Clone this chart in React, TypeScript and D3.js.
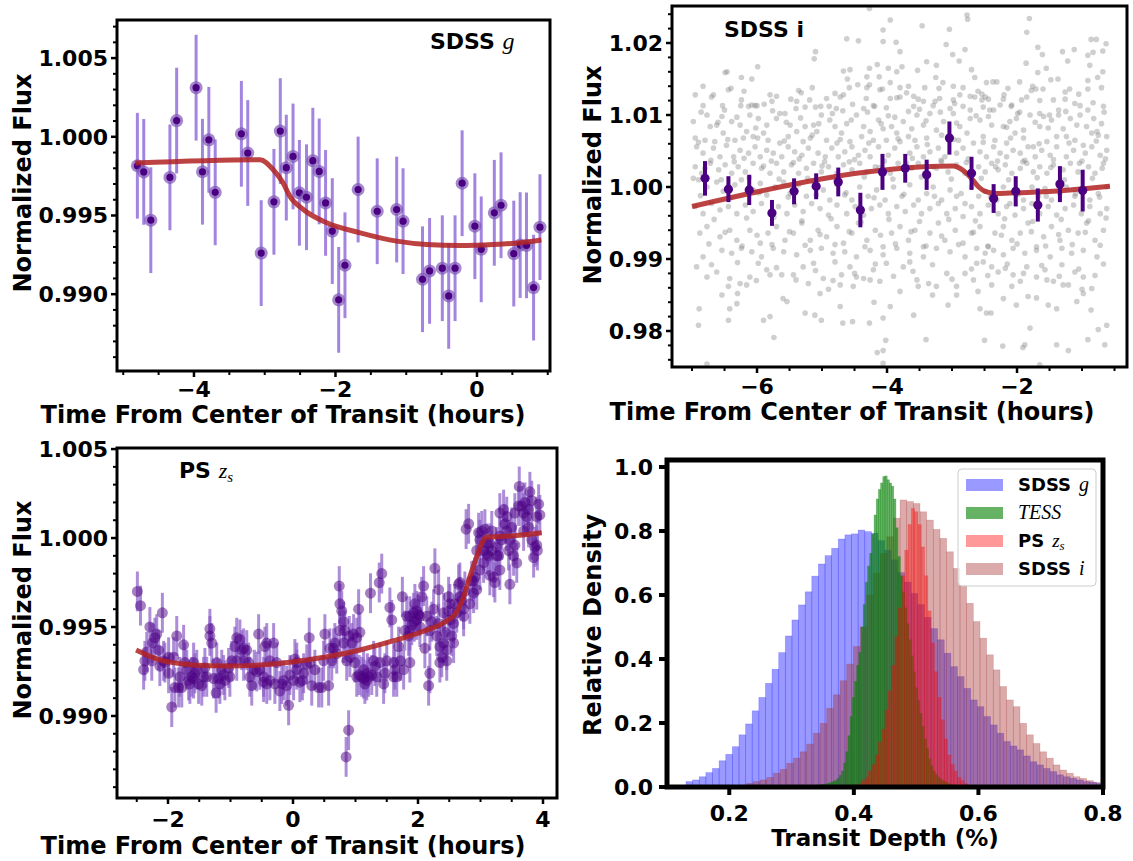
import React from "react";
import * as d3 from "d3";

const FONT = "'DejaVu Sans', sans-serif";
const SERIF = "'Liberation Serif', 'DejaVu Serif', serif";

// ---------------- Panel 1: SDSS g ----------------
const gTime = [-4.80,-4.71,-4.61,-4.34,-4.245,-3.97,-3.88,-3.79,-3.70,-3.33,-3.24,-3.05,-2.87,-2.78,-2.695,-2.60,-2.51,-2.41,-2.32,-2.23,-2.14,-2.045,-1.955,-1.866,-1.68,-1.41,-1.135,-1.045,-0.77,-0.67,-0.49,-0.40,-0.31,-0.21,-0.03,0.06,0.245,0.34,0.52,0.61,0.70,0.80,0.89];
const gFlux = [0.99816,0.99777,0.99470,0.99742,1.00103,1.00312,0.99778,0.99981,0.99647,1.00019,0.99897,0.99261,0.99587,1.00036,0.99804,0.99875,0.99644,0.99616,0.99848,0.99780,0.99580,0.99401,0.98964,0.99184,0.99665,0.99527,0.99538,0.99464,0.99095,0.99148,0.99165,0.98989,0.99165,0.99705,0.99432,0.99285,0.99517,0.99565,0.99258,0.99312,0.99310,0.99042,0.99426];
const G_ERR = 0.00336;
const gModelTime = [-4.83,-3.067,-2.88,-2.74,-2.645,-2.455,-2.125,-1.65,-1.135,-0.71,-0.24,0.23,0.61,0.91];
const gModelFlux = [0.99833,0.99854,0.99791,0.99707,0.99622,0.99538,0.99454,0.99390,0.99337,0.99316,0.99310,0.99316,0.99327,0.99344];
const gXTicks = [-4, -2, 0];
const gYTicks = [0.990, 0.995, 1.000, 1.005];

// ---------------- Panel 2: SDSS i ----------------
const iRaw: [number, number][] = [
[-4.27,1.0248],[-2.77,1.0239],[-2.76,1.0233],[-1.81,1.0234],[-3.95,1.0232],[-1.85,1.0215],[-3.46,1.0224],[-4.06,1.0218],[-3.04,1.0219],[-4.62,1.0206],[-4.44,1.0203],[-4.06,1.0202],[-3.86,1.0201],[-0.86,1.0205],[-0.78,1.0205],[-0.63,1.0199],[-3.09,1.0198],[-2.80,1.0191],[-5.10,1.0188],[-3.80,1.0188],[-1.68,1.0194],[-1.12,1.0191],[-1.30,1.0188],[-0.83,1.0187],[-0.68,1.0189],[-2.99,1.0184],[-1.61,1.0184],[-0.91,1.0183],[-5.12,1.0178],[-2.89,1.0175],[-1.22,1.0175],[-1.86,1.0172],[-3.39,1.0174],[-3.24,1.0169],[-4.15,1.0170],[-4.27,1.0165],[-4.57,1.0163],[-4.67,1.0161],[-5.99,1.0167],[-3.77,1.0167],[-3.85,1.0160],[-3.98,1.0165],[-3.53,1.0162],[-1.55,1.0165],[-1.68,1.0159],[-0.88,1.0169],[-0.68,1.0160],[-2.70,1.0163],[-6.49,1.0159],[-6.46,1.0160],[-6.24,1.0152],[-6.08,1.0150],[-4.31,1.0153],[-4.61,1.0150],[-4.12,1.0153],[-3.25,1.0152],[-2.37,1.0146],[-2.47,1.0145],[-2.65,1.0152],[-1.48,1.0149],[-1.37,1.0150],[-0.91,1.0148],[-0.76,1.0152],[-1.96,1.0146],[-1.76,1.0140],[-1.71,1.0136],[-1.19,1.0136],
[-3.95,1.0145],[-6.83,1.0140],[-6.44,1.0135],[-6.40,1.0137],[-5.36,1.0134],[-5.32,1.0131],[-4.58,1.0138],[-4.31,1.0138],[-4.27,1.0142],[-4.11,1.0135],[-4.07,1.0136],[-3.80,1.0138],[-3.67,1.0140],[-3.42,1.0138],[-3.14,1.0145],[-2.98,1.0140],[-2.83,1.0138],[-2.54,1.0129],[-2.49,1.0125],[-2.31,1.0146],[-2.14,1.0137],[-1.78,1.0134],[-1.26,1.0132],[-0.91,1.0136],[-6.95,1.0128],[-6.67,1.0128],[-6.24,1.0121],[-6.08,1.0114],[-6.03,1.0113],[-5.80,1.0128],[-5.77,1.0119],[-5.89,1.0115],[-5.48,1.0122],[-5.39,1.0119],[-5.19,1.0121],[-4.93,1.0123],[-4.89,1.0112],[-4.72,1.0125],[-4.67,1.0128],[-4.53,1.0115],[-4.21,1.0113],[-4.32,1.0123],[-3.95,1.0123],[-3.85,1.0124],[-3.80,1.0125],[-3.59,1.0126],[-3.52,1.0122],[-3.44,1.0119],[-3.26,1.0119],[-3.19,1.0123],[-2.98,1.0121],[-2.88,1.0128],[-2.72,1.0126],[-2.65,1.0125],[-2.54,1.0121],[-2.44,1.0122],[-2.21,1.0122],[-2.08,1.0114],[-1.93,1.0121],[-1.85,1.0125],[-1.65,1.0120],[-1.44,1.0121],[-1.26,1.0122],[-1.11,1.0116],[-1.03,1.0113],[-0.83,1.0117],[-6.83,1.0113],[-6.50,1.0107],[-6.53,1.0113],[-6.25,1.0113],[-6.13,1.0112],[-6.00,1.0113],[-5.65,1.0102],[-5.40,1.0109],[-5.26,1.0111],[-5.10,1.0111],[-5.02,1.0112],[-4.78,1.0109],[-4.68,1.0106],[-4.36,1.0109],[-4.19,1.0112],[-4.01,1.0110],[-3.67,1.0105],[-3.59,1.0112],[-3.50,1.0108],[-3.29,1.0113],[-3.03,1.0109],[-2.96,1.0116],[-2.83,1.0112],[-2.72,1.0107],[-2.52,1.0111],[-2.42,1.0107],[-2.26,1.0114],[-2.09,1.0112],[-1.99,1.0102],[-1.65,1.0102],[-1.50,1.0100],[-1.36,1.0107],[-0.91,1.0107],[-0.67,1.0112],
[-6.98,1.0091],[-6.77,1.0100],[-6.72,1.0084],[-6.62,1.0086],[-6.54,1.0098],[-6.39,1.0091],[-6.26,1.0086],[-6.11,1.0100],[-5.98,1.0095],[-6.16,1.0077],[-6.06,1.0070],[-5.90,1.0075],[-5.85,1.0086],[-5.70,1.0095],[-5.57,1.0102],[-5.49,1.0086],[-5.39,1.0077],[-5.26,1.0084],[-5.13,1.0086],[-5.08,1.0077],[-5.01,1.0100],[-4.88,1.0093],[-4.80,1.0084],[-4.70,1.0075],[-4.62,1.0088],[-4.47,1.0100],[-4.36,1.0084],[-4.26,1.0077],[-4.13,1.0093],[-4.06,1.0081],[-3.98,1.0099],[-3.93,1.0084],[-3.85,1.0075],[-3.75,1.0091],[-3.67,1.0070],[-3.54,1.0100],[-3.44,1.0086],[-3.34,1.0102],[-3.24,1.0079],[-3.13,1.0091],[-2.98,1.0102],[-2.88,1.0084],[-2.72,1.0095],[-2.57,1.0093],[-2.44,1.0098],[-2.39,1.0086],[-2.21,1.0084],[-2.11,1.0091],[-2.01,1.0095],[-1.90,1.0079],[-1.80,1.0100],[-1.65,1.0084],[-1.59,1.0098],[-1.47,1.0093],[-1.36,1.0100],[-1.29,1.0081],[-1.18,1.0095],[-1.03,1.0100],[-0.93,1.0084],[-0.77,1.0077],[-0.70,1.0088],[-6.95,1.0068],[-6.80,1.0065],[-6.65,1.0063],[-6.52,1.0075],[-6.34,1.0065],[-6.21,1.0068],[-5.83,1.0065],[-5.65,1.0061],[-5.52,1.0070],[-5.29,1.0063],[-5.18,1.0068],[-4.93,1.0065],[-4.77,1.0061],[-4.57,1.0063],[-4.39,1.0070],[-4.21,1.0065],[-4.01,1.0065],[-3.80,1.0063],[-3.57,1.0065],[-3.39,1.0068],[-3.16,1.0072],[-2.90,1.0065],[-2.77,1.0075],[-2.67,1.0061],[-2.52,1.0070],[-2.34,1.0065],[-2.16,1.0061],[-2.03,1.0075],[-1.90,1.0068],[-1.75,1.0056],[-1.54,1.0063],[-1.39,1.0070],[-1.24,1.0070],[-1.11,1.0065],[-0.98,1.0058],[-0.85,1.0075],[-0.75,1.0072],[-0.62,1.0070],
[-6.93,1.0056],[-6.83,1.0047],[-6.67,1.0054],[-6.57,1.0042],[-6.47,1.0058],[-6.36,1.0042],[-6.26,1.0051],[-6.13,1.0047],[-6.03,1.0056],[-5.95,1.0042],[-5.85,1.0051],[-5.75,1.0047],[-5.62,1.0042],[-5.52,1.0056],[-5.42,1.0049],[-5.31,1.0044],[-5.21,1.0054],[-5.06,1.0047],[-4.95,1.0042],[-4.85,1.0054],[-4.75,1.0042],[-4.65,1.0049],[-4.54,1.0056],[-4.44,1.0044],[-4.34,1.0051],[-4.26,1.0042],[-4.13,1.0056],[-3.98,1.0044],[-3.88,1.0054],[-3.65,1.0047],[-3.54,1.0056],[-3.44,1.0042],[-3.34,1.0049],[-3.21,1.0054],[-3.11,1.0042],[-2.93,1.0047],[-2.83,1.0054],[-2.57,1.0049],[-2.47,1.0042],[-2.36,1.0056],[-2.26,1.0047],[-2.16,1.0042],[-2.06,1.0051],[-1.95,1.0047],[-1.83,1.0056],[-1.72,1.0042],[-1.62,1.0051],[-1.49,1.0044],[-1.39,1.0056],[-1.24,1.0042],[-1.13,1.0051],[-0.95,1.0047],[-0.85,1.0056],[-0.72,1.0044],[-0.62,1.0051],[-6.95,1.0028],[-6.85,1.0019],[-6.72,1.0033],[-6.59,1.0024],[-6.49,1.0031],[-6.39,1.0019],[-6.29,1.0028],[-6.18,1.0021],[-6.06,1.0033],[-5.93,1.0026],[-5.80,1.0019],[-5.70,1.0033],[-5.59,1.0021],[-5.47,1.0031],[-5.36,1.0019],[-5.24,1.0026],[-5.13,1.0033],[-5.01,1.0021],[-4.90,1.0028],[-4.77,1.0019],[-4.67,1.0031],[-4.54,1.0024],[-4.42,1.0033],[-4.31,1.0021],[-4.18,1.0028],[-3.95,1.0019],[-3.83,1.0033],[-3.62,1.0026],[-3.52,1.0033],[-3.42,1.0019],[-3.29,1.0028],[-3.16,1.0035],[-3.06,1.0021],[-2.93,1.0031],[-2.80,1.0019],[-2.59,1.0028],[-2.49,1.0021],[-2.39,1.0033],[-2.29,1.0024],[-2.18,1.0031],[-2.08,1.0019],[-1.95,1.0026],[-1.85,1.0033],[-1.75,1.0021],[-1.65,1.0028],[-1.54,1.0019],[-1.44,1.0031],[-1.29,1.0024],[-1.18,1.0033],[-1.06,1.0021],[-0.90,1.0028],[-0.80,1.0019],[-0.67,1.0033],
[-6.90,1.0010],[-6.77,1.0000],[-6.62,1.0007],[-6.52,0.9994],[-6.34,1.0003],[-6.24,1.0010],[-6.06,0.9996],[-5.95,1.0005],[-5.85,0.9989],[-5.72,1.0000],[-5.59,1.0007],[-5.49,0.9991],[-5.36,1.0003],[-5.24,0.9987],[-5.13,1.0007],[-4.98,0.9996],[-4.88,0.9982],[-4.77,1.0003],[-4.65,0.9989],[-4.54,0.9982],[-4.42,1.0000],[-4.29,0.9987],[-4.16,0.9996],[-4.03,0.9982],[-3.90,1.0000],[-3.77,0.9987],[-3.65,1.0003],[-3.52,0.9982],[-3.39,0.9991],[-3.29,1.0000],[-3.16,0.9982],[-3.03,0.9996],[-2.93,0.9987],[-2.80,0.9977],[-2.70,1.0000],[-2.59,0.9987],[-2.49,0.9994],[-2.31,0.9982],[-2.21,1.0000],[-2.11,0.9977],[-2.01,0.9991],[-1.90,0.9982],[-1.77,1.0000],[-1.67,0.9987],[-1.57,0.9998],[-1.47,0.9982],[-1.34,0.9991],[-1.24,1.0000],[-1.11,0.9987],[-0.98,0.9996],[-0.88,0.9982],[-0.75,0.9991],[-0.62,1.0000],[-6.95,0.9973],[-6.83,0.9963],[-6.70,0.9977],[-6.57,0.9968],[-6.44,0.9973],[-6.31,0.9963],[-6.18,0.9975],[-6.06,0.9966],[-5.93,0.9977],[-5.80,0.9963],[-5.67,0.9973],[-5.54,0.9963],[-5.42,0.9975],[-5.29,0.9966],[-5.16,0.9977],[-5.03,0.9970],[-4.90,0.9961],[-4.77,0.9975],[-4.62,0.9963],[-4.49,0.9973],[-4.36,0.9961],[-4.24,0.9970],[-4.11,0.9975],[-3.98,0.9963],[-3.85,0.9973],[-3.72,0.9966],[-3.59,0.9975],[-3.47,0.9963],[-3.34,0.9970],[-3.21,0.9977],[-3.08,0.9963],[-2.95,0.9970],[-2.83,0.9959],[-2.70,0.9973],[-2.57,0.9963],[-2.44,0.9975],[-2.29,0.9963],[-2.16,0.9973],[-2.03,0.9961],[-1.90,0.9970],[-1.77,0.9977],[-1.65,0.9963],[-1.52,0.9973],[-1.39,0.9961],[-1.26,0.9970],[-1.13,0.9975],[-1.01,0.9963],[-0.88,0.9973],[-0.72,0.9963],[-0.62,0.9970],
[-6.88,0.9936],[-6.77,0.9945],[-6.57,0.9931],[-6.42,0.9940],[-6.31,0.9926],[-6.11,0.9940],[-5.95,0.9922],[-5.83,0.9936],[-5.70,0.9945],[-5.57,0.9926],[-5.44,0.9936],[-5.31,0.9950],[-5.18,0.9926],[-5.06,0.9940],[-4.93,0.9931],[-4.77,0.9945],[-4.67,0.9922],[-4.54,0.9936],[-4.44,0.9950],[-4.31,0.9926],[-4.18,0.9940],[-4.06,0.9917],[-3.93,0.9936],[-3.80,0.9945],[-3.67,0.9926],[-3.57,0.9940],[-3.44,0.9917],[-3.34,0.9936],[-3.21,0.9950],[-3.11,0.9926],[-2.95,0.9940],[-2.83,0.9922],[-2.70,0.9936],[-2.57,0.9945],[-2.44,0.9917],[-2.34,0.9936],[-2.21,0.9945],[-2.08,0.9926],[-1.95,0.9936],[-1.83,0.9950],[-1.70,0.9917],[-1.59,0.9931],[-1.47,0.9945],[-1.34,0.9926],[-1.21,0.9940],[-1.06,0.9936],[-0.93,0.9950],[-0.80,0.9926],[-0.67,0.9940],[-6.54,0.9912],[-6.39,0.9908],[-6.24,0.9915],[-6.08,0.9910],[-5.93,0.9903],[-5.75,0.9915],[-5.59,0.9910],[-5.39,0.9906],[-5.18,0.9912],[-5.01,0.9915],[-4.83,0.9908],[-4.65,0.9910],[-4.47,0.9903],[-4.26,0.9912],[-4.06,0.9906],[-3.85,0.9915],[-3.65,0.9908],[-3.44,0.9903],[-3.24,0.9915],[-3.03,0.9910],[-2.80,0.9903],[-2.62,0.9915],[-2.49,0.9908],[-2.36,0.9912],[-2.21,0.9906],[-2.06,0.9915],[-1.88,0.9908],[-1.70,0.9912],[-1.49,0.9903],[-1.31,0.9915],[-1.16,0.9908],[-0.98,0.9912],[-0.77,0.9903],
[-6.93,0.9889],[-6.83,0.9903],[-6.70,0.9892],[-6.54,0.9850],[-6.44,0.9862],[-6.26,0.9866],[-6.11,0.9875],[-5.98,0.9894],[-5.85,0.9885],[-5.80,0.9878],[-5.62,0.9878],[-5.44,0.9878],[-5.29,0.9889],[-5.13,0.9894],[-4.98,0.9873],[-4.83,0.9870],[-4.70,0.9878],[-4.57,0.9889],[-4.47,0.9875],[-4.36,0.9873],[-4.21,0.9885],[-4.11,0.9869],[-4.01,0.9894],[-3.75,0.9889],[-3.65,0.9896],[-3.52,0.9862],[-3.36,0.9866],[-3.24,0.9862],[-3.08,0.9880],[-2.93,0.9862],[-2.80,0.9880],[-2.62,0.9894],[-2.52,0.9896],[-2.39,0.9889],[-2.29,0.9882],[-2.18,0.9887],[-2.06,0.9878],[-1.95,0.9869],[-1.85,0.9889],[-1.70,0.9875],[-1.57,0.9885],[-1.44,0.9869],[-1.31,0.9892],[-1.21,0.9864],[-1.11,0.9882],[-0.98,0.9875],[-0.85,0.9859],[-0.67,0.9893],[-6.77,0.9875],[-6.42,0.9873],[-6.16,0.9864],[-5.21,0.9866],[-5.03,0.9852],[-4.72,0.9864],[-4.52,0.9862],[-4.26,0.9871],[-3.80,0.9855],[-3.54,0.9871],[-2.93,0.9850],[-2.67,0.9871],[-2.39,0.9864],[-2.08,0.9862],[-1.54,0.9871],[-1.29,0.9864],
[-6.89,0.9831],[-6.90,0.9808],[-6.42,0.9831],[-6.44,0.9815],[-6.31,0.9838],[-5.90,0.9815],[-5.80,0.9820],[-5.54,0.9841],[-5.26,0.9825],[-5.11,0.9822],[-5.01,0.9815],[-4.72,0.9834],[-4.68,0.9811],[-4.53,0.9813],[-4.27,0.9811],[-4.06,0.9818],[-3.95,0.9834],[-3.59,0.9822],[-3.06,0.9836],[-2.57,0.9831],[-2.47,0.9825],[-2.40,0.9825],[-2.21,0.9845],[-2.01,0.9836],[-1.83,0.9848],[-1.52,0.9836],[-1.39,0.9831],[-1.08,0.9841],[-0.98,0.9852],[-0.86,0.9829],[-0.62,0.9808],[-0.75,0.9802],[-1.80,0.9804],[-1.88,0.9781],[-1.91,0.9777],[-2.22,0.9779],[-2.50,0.9787],[-3.40,0.9788],[-4.02,0.9787],[-4.15,0.9770],[-4.06,0.9773],[-5.74,0.9791],[-6.77,0.9754],[-1.39,0.9781],[-1.21,0.9773],[-0.65,0.9781],[-0.91,0.9788],[-1.65,0.9753],[-4.06,0.9755],
[-6.86,1.0104],[-6.60,1.0090],[-6.31,1.0097],[-6.02,1.0082],[-5.76,1.0106],[-5.55,1.0090],[-5.33,1.0096],[-5.05,1.0088],[-4.84,1.0102],[-4.55,1.0093],[-4.30,1.0104],[-4.09,1.0088],[-3.88,1.0097],[-3.62,1.0081],[-3.40,1.0092],[-3.18,1.0104],[-2.93,1.0089],[-2.63,1.0099],[-2.36,1.0107],[-2.16,1.0083],[-1.96,1.0104],[-1.72,1.0090],[-1.52,1.0082],[-1.25,1.0105],[-1.08,1.0086],[-0.82,1.0095],[-0.66,1.0104],
[-6.90,1.0062],[-6.71,1.0037],[-6.45,1.0066],[-6.20,1.0040],[-5.99,1.0068],[-5.78,1.0036],[-5.58,1.0064],[-5.35,1.0039],[-5.15,1.0072],[-4.96,1.0035],[-4.72,1.0066],[-4.50,1.0038],[-4.28,1.0061],[-4.04,1.0036],[-3.83,1.0067],[-3.61,1.0040],[-3.38,1.0059],[-3.17,1.0037],[-2.97,1.0066],[-2.75,1.0039],[-2.52,1.0062],[-2.30,1.0036],[-2.10,1.0068],[-1.88,1.0037],[-1.66,1.0060],[-1.44,1.0038],[-1.20,1.0061],[-1.00,1.0036],[-0.78,1.0064],[-0.64,1.0039],
[-6.98,1.0012],[-6.80,1.0026],[-6.55,1.0010],[-6.35,1.0035],[-6.12,1.0013],[-5.90,1.0029],[-5.66,1.0011],[-5.44,1.0034],[-5.22,1.0012],[-5.00,1.0029],[-4.79,1.0010],[-4.58,1.0035],[-4.35,1.0014],[-4.12,1.0027],[-3.91,1.0011],[-3.70,1.0033],[-3.47,1.0014],[-3.24,1.0026],[-3.01,1.0011],[-2.78,1.0034],[-2.55,1.0012],[-2.33,1.0028],[-2.13,1.0010],[-1.91,1.0035],[-1.69,1.0013],[-1.48,1.0027],[-1.27,1.0010],[-1.04,1.0033],[-0.84,1.0012],[-0.69,1.0026],
[-6.87,0.9988],[-6.66,0.9955],[-6.41,0.9985],[-6.16,0.9957],[-5.97,0.9992],[-5.74,0.9958],[-5.52,0.9986],[-5.31,0.9953],[-5.09,0.9989],[-4.86,0.9956],[-4.63,0.9992],[-4.40,0.9951],[-4.20,0.9985],[-3.97,0.9955],[-3.74,0.9990],[-3.50,0.9952],[-3.27,0.9987],[-3.05,0.9955],[-2.86,0.9991],[-2.64,0.9953],[-2.41,0.9986],[-2.19,0.9956],[-1.98,0.9990],[-1.76,0.9952],[-1.55,0.9987],[-1.32,0.9955],[-1.10,0.9991],[-0.90,0.9953],[-0.73,0.9986],[-0.63,0.9957],
[-6.74,0.9921],[-6.49,0.9937],[-6.23,0.9918],[-6.00,0.9933],[-5.77,0.9920],[-5.50,0.9938],[-5.26,0.9919],[-5.03,0.9934],[-4.80,0.9920],[-4.58,0.9938],[-4.34,0.9917],[-4.10,0.9933],[-3.87,0.9921],[-3.63,0.9938],[-3.40,0.9918],[-3.16,0.9932],[-2.90,0.9920],[-2.67,0.9937],[-2.45,0.9918],[-2.24,0.9933],[-2.00,0.9921],[-1.78,0.9938],[-1.56,0.9918],[-1.36,0.9934],[-1.15,0.9920],[-0.95,0.9937],[-0.72,0.9919],
[-6.62,0.9882],[-6.30,0.9895],[-6.01,0.9870],[-5.70,0.9888],[-5.40,0.9871],[-5.10,0.9884],[-4.80,0.9896],[-4.50,0.9880],[-4.18,0.9893],[-3.90,0.9876],[-3.60,0.9883],[-3.30,0.9892],[-3.00,0.9872],[-2.70,0.9886],[-2.45,0.9877],[-2.15,0.9893],[-1.90,0.9880],[-1.62,0.9891],[-1.35,0.9876],[-1.05,0.9886],[-0.80,0.9877],
[-6.70,1.0125],[-6.20,1.0133],[-5.70,1.0126],[-5.15,1.0138],[-4.80,1.0130],[-4.45,1.0142],[-3.70,1.0131],[-3.20,1.0137],[-2.60,1.0133],[-2.20,1.0128],[-1.60,1.0136],[-1.05,1.0129],[-0.70,1.0138],
[-6.30,0.9852],[-5.60,0.9845],[-4.90,0.9858],[-4.20,0.9840],[-3.30,0.9850],[-2.60,0.9855],[-1.70,0.9846],[-1.00,0.9858]
];
const iBinTime = [-6.80,-6.44,-6.12,-5.77,-5.43,-5.09,-4.75,-4.41,-4.07,-3.72,-3.39,-3.04,-2.70,-2.36,-2.02,-1.68,-1.34,-0.99];
const iBinFlux = [1.0012,0.9997,0.9996,0.9964,0.9994,1.0001,1.0007,0.9968,1.0021,1.0026,1.0017,1.0068,1.0019,0.9984,0.9994,0.9975,1.0004,0.9995];
const iBinErr = [0.0024,0.0018,0.0021,0.0018,0.0018,0.0018,0.0020,0.0024,0.0025,0.0020,0.0021,0.0023,0.0023,0.0020,0.0021,0.0023,0.0025,0.0029];
const iModelTime = [-7.00,-2.98,-2.88,-2.72,-2.59,-2.49,-2.31,-2.01,-1.44,-0.93,-0.57];
const iModelFlux = [0.9973,1.0029,1.0026,1.0014,1.0000,0.9994,0.9991,0.9992,0.9994,0.9998,1.0001];
const iXTicks = [-6, -4, -2];
const iYTicks = [0.98, 0.99, 1.00, 1.01, 1.02];

// ---------------- Panel 3: PS z_s ----------------
const zPts: [number, number][] = [
[-2.49,0.9970],[-2.44,0.9962],[-2.39,0.9926],[-2.37,0.9931],[-2.29,0.9950],[-2.25,0.9941],[-2.21,0.9944],[-2.18,0.9946],[-2.13,0.9928],[-2.09,0.9958],[-2.05,0.9930],[-1.99,0.9924],[-1.94,0.9905],[-1.91,0.9933],[-1.86,0.9945],[-1.83,0.9916],[-1.78,0.9916],[-1.75,0.9940],[-1.70,0.9926],[-1.67,0.9920],[-1.65,0.9918],[-1.59,0.9921],[-1.57,0.9924],[-1.51,0.9918],[-1.46,0.9917],[-1.41,0.9927],[-1.38,0.9922],[-1.33,0.9949],[-1.30,0.9941],[-1.23,0.9913],[-1.19,0.9921],[-1.14,0.9926],[-1.09,0.9920],[-1.03,0.9927],[-0.98,0.9931],[-0.93,0.9939],[-0.90,0.9944],[-0.85,0.9943],[-0.82,0.9937],[-0.79,0.9938],[-0.74,0.9937],[-0.69,0.9922],[-0.66,0.9917],[-0.62,0.9926],[-0.55,0.9946],[-0.53,0.9926],[-0.47,0.9919],[-0.45,0.9939],[-0.42,0.9941],[-0.37,0.9931],[-0.31,0.9941],[-0.26,0.9930],[-0.21,0.9914],[-0.18,0.9918],[-0.15,0.9920],[-0.07,0.9906],[-0.05,0.9923],[0.01,0.9920],[0.03,0.9932],[0.06,0.9930],[0.11,0.9919],[0.15,0.9920],[0.22,0.9929],[0.26,0.9944],[0.30,0.9917],[0.35,0.9926],[0.41,0.9916],[0.46,0.9916],[0.51,0.9946],[0.57,0.9917],[0.62,0.9931],[0.65,0.9938],[0.67,0.9941],[0.70,0.9935],[0.74,0.9973],[0.75,0.9963],[0.78,0.9959],[0.81,0.9953],[0.83,0.9948],[0.86,0.9931],[0.89,0.9892],[0.85,0.9877],[0.90,0.9945],[0.94,0.9941],[0.97,0.9946],[1.02,0.9944],[1.05,0.9960],[1.07,0.9947],[1.10,0.9922],[1.13,0.9921],[1.15,0.9918],[1.18,0.9920],[1.21,0.9922],[1.24,0.9969],[1.29,0.9931],[1.31,0.9928],[1.34,0.9922],[1.38,0.9975],[1.42,0.9980],[1.45,0.9918],[1.50,0.9931],[1.55,0.9961],[1.58,0.9954],[1.61,0.9922],[1.63,0.9926],[1.66,0.9922],[1.69,0.9939],[1.72,0.9931],[1.75,0.9967],[1.79,0.9948],[1.82,0.9956],[1.85,0.9945],[1.87,0.9930],[1.90,0.9951],[1.93,0.9958],[1.95,0.9963],[1.98,0.9954],[2.01,0.9957],[2.03,0.9950],[2.06,0.9967],[2.09,0.9973],[2.11,0.9938],[2.14,0.9956],[2.17,0.9917],[2.19,0.9924],[2.22,0.9953],[2.25,0.9960],[2.27,0.9983],[2.30,0.9945],[2.33,0.9971],[2.35,0.9939],[2.38,0.9933],[2.41,0.9941],[2.43,0.9947],[2.46,0.9931],[2.49,0.9967],[2.51,0.9954],[2.54,0.9945],[2.57,0.9952],[2.59,0.9963],[2.62,0.9958],[2.65,0.9974],[2.67,0.9975],[2.70,0.9965],[2.73,0.9960],[2.75,0.9970],[2.77,1.0005],[2.81,1.0008],[2.83,0.9963],[2.86,0.9976],[2.89,0.9969],[2.91,0.9978],[2.94,0.9971],[2.97,1.0003],[2.99,0.9999],[3.02,1.0004],[3.05,0.9986],[3.07,1.0005],[3.10,0.9997],[3.13,0.9990],[3.15,0.9979],[3.18,0.9993],[3.21,0.9978],[3.23,0.9975],[3.26,0.9990],[3.29,0.9990],[3.31,1.0014],[3.34,0.9999],[3.37,1.0016],[3.39,1.0008],[3.42,1.0012],[3.45,0.9993],[3.47,0.9974],[3.50,1.0006],[3.53,0.9990],[3.55,0.9996],[3.58,0.9986],[3.61,1.0018],[3.62,1.0029],[3.66,1.0018],[3.69,1.0014],[3.71,1.0020],[3.74,1.0012],[3.77,1.0016],[3.79,1.0026],[3.82,0.9999],[3.85,0.9989],[3.87,0.9995],[3.90,1.0012],[3.93,1.0019],[3.95,1.0013],[3.91,0.9993],
[1.02,0.9922],[1.06,0.9923],[1.19,0.9924],[1.13,0.9926],[1.26,0.9923],[1.39,0.9930],[1.47,0.9924],[1.61,0.9930],[1.77,0.9926],[1.87,0.9956],[1.94,0.9953],[1.98,0.9959],[2.03,0.9956],[1.87,0.9948],[2.19,0.9948],[2.33,0.9952],[2.41,0.9958],[2.49,0.9959],[2.57,0.9941],[2.35,0.9930],[2.46,0.9937],[2.51,0.9963],[2.67,0.9967],[2.73,0.9956],[2.89,0.9976],[2.99,0.9982],[3.05,0.9993],[3.15,0.9997],[3.26,0.9995],[3.31,1.0001],[3.42,1.0004],[3.47,0.9999],[3.55,1.0014],[3.69,1.0004],[3.77,1.0006],[3.82,1.0021],[3.90,0.9996],[3.31,0.9982],[3.18,1.0004],[3.10,0.9991],[2.94,0.9993],[0.75,0.9948],[0.81,0.9941],[0.91,0.9933],[0.99,0.9930],[0.59,0.9938],[0.49,0.9931],[0.27,0.9930],[0.17,0.9924],[0.06,0.9926],[-0.10,0.9917],[-0.37,0.9920],[-0.42,0.9918],[-0.58,0.9925],[-0.71,0.9930],[-0.79,0.9931],[-0.90,0.9931],[-1.01,0.9922],[-1.11,0.9923],[-1.22,0.9930],[-1.27,0.9921],[-1.43,0.9922],[-1.54,0.9926],[-1.62,0.9922],[-1.73,0.9930],[-1.81,0.9922],[-1.89,0.9916],[-1.99,0.9933],[-2.07,0.9931],[-2.15,0.9937],[-2.26,0.9931],[-2.34,0.9936],[-1.33,0.9945],[-1.59,0.9930],[-1.17,0.9918],[-0.47,0.9922],[-0.29,0.9918]
];
const Z_ERR = 0.00112;
const zModelTime = [-2.51,-2.13,-1.59,-1.06,-0.53,0.01,0.54,1.07,1.61,2.14,2.41,2.62,2.73,2.83,2.94,3.02,3.10,3.47,3.98];
const zModelFlux = [0.99371,0.99315,0.99287,0.99281,0.99287,0.99305,0.99333,0.99371,0.99423,0.99483,0.99524,0.99586,0.99670,0.99783,0.99895,0.99970,1.00004,1.00011,1.00030];
const zXTicks = [-2, 0, 2, 4];
const zYTicks = [0.990, 0.995, 1.000, 1.005];

// ---------------- Panel 4: depth histograms ----------------
const histG = { start: 0.1305, width: 0.01063, heights: [0.017,0.022,0.032,0.045,0.058,0.082,0.102,0.126,0.163,0.197,0.238,0.280,0.324,0.368,0.420,0.472,0.522,0.569,0.610,0.659,0.697,0.723,0.746,0.775,0.788,0.791,0.803,0.798,0.793,0.77,0.74,0.71,0.67,0.64,0.605,0.57,0.53,0.495,0.46,0.418,0.376,0.345,0.308,0.272,0.251,0.22,0.194,0.168,0.142,0.128,0.116,0.097,0.079,0.069,0.058,0.048,0.038,0.032,0.027,0.022,0.017,0.015,0.011] };
const histTESS = { start: 0.310, width: 0.0035, heights: [0.002,0.002,0.003,0.003,0.003,0.004,0.004,0.005,0.005,0.006,0.007,0.008,0.009,0.010,0.012,0.014,0.017,0.021,0.027,0.036,0.050,0.075,0.11,0.16,0.22,0.28,0.33,0.38,0.42,0.50,0.57,0.64,0.69,0.73,0.79,0.85,0.90,0.93,0.95,0.97,0.972,0.96,0.95,0.94,0.90,0.81,0.72,0.66,0.61,0.56,0.51,0.46,0.41,0.36,0.31,0.27,0.23,0.19,0.15,0.12,0.088,0.066,0.050,0.040,0.032,0.026,0.021,0.017,0.013,0.010,0.008,0.007,0.006,0.005,0.005,0.004,0.004,0.003,0.003,0.003,0.002,0.002,0.002,0.002,0.002,0.002,0.002,0.002,0.002,0.002,0.001,0.001,0.001,0.001,0.001,0.001,0.001,0.001,0.001,0.001] };
const histZ = { start: 0.4075, width: 0.0053, heights: [0.01,0.02,0.03,0.05,0.07,0.10,0.14,0.18,0.24,0.30,0.38,0.47,0.56,0.66,0.74,0.82,0.87,0.86,0.82,0.75,0.66,0.55,0.45,0.36,0.28,0.21,0.15,0.10,0.07,0.05,0.03,0.02,0.01,0.006] };
const histI = { start: 0.228, width: 0.0107, heights: [0.011,0.017,0.022,0.030,0.043,0.055,0.074,0.090,0.110,0.134,0.168,0.199,0.246,0.288,0.332,0.384,0.439,0.50,0.600,0.668,0.730,0.782,0.840,0.897,0.892,0.886,0.860,0.834,0.805,0.777,0.735,0.683,0.631,0.574,0.517,0.465,0.413,0.366,0.314,0.272,0.251,0.199,0.163,0.136,0.110,0.090,0.069,0.053,0.043,0.032,0.027,0.020,0.014] };
const dXTicks = [0.2, 0.4, 0.6, 0.8];
const dYTicks = [0.0, 0.2, 0.4, 0.6, 0.8, 1.0];

// ---------------- helpers ----------------
type Box = { l: number; r: number; t: number; b: number };
type Sc = d3.ScaleLinear<number, number>;

function minorTicks(domain: number[], step: number, majors: number[]) {
  const [a, b] = domain;
  const out: number[] = [];
  const start = Math.ceil(a / step - 1e-9);
  const end = Math.floor(b / step + 1e-9);
  for (let k = start; k <= end; k++) {
    const v = k * step;
    if (!majors.some((m) => Math.abs(m - v) < step * 0.01)) out.push(v);
  }
  return out;
}

function Axes(props: {
  box: Box; xs: Sc; ys: Sc; xMajor: number[]; yMajor: number[]; xMinor: number[]; yMinor: number[];
  xFmt: (v: number) => string; yFmt: (v: number) => string; len: number; minLen: number; tw: number; minTw: number;
  spine: number; xBase: number; yGap: number; fs: number;
}) {
  const p = props;
  const { box } = p;
  return (
    <g>
      {p.xMinor.map((v, i) => (
        <line key={"xm" + i} x1={p.xs(v)} x2={p.xs(v)} y1={box.b} y2={box.b + p.minLen} stroke="#000" strokeWidth={p.minTw} />
      ))}
      {p.yMinor.map((v, i) => (
        <line key={"ym" + i} x1={box.l - p.minLen} x2={box.l} y1={p.ys(v)} y2={p.ys(v)} stroke="#000" strokeWidth={p.minTw} />
      ))}
      {p.xMajor.map((v, i) => (
        <g key={"xM" + i}>
          <line x1={p.xs(v)} x2={p.xs(v)} y1={box.b} y2={box.b + p.len} stroke="#000" strokeWidth={p.tw} />
          <text x={p.xs(v)} y={p.xBase} textAnchor="middle" fontSize={p.fs} fontWeight="bold">{p.xFmt(v)}</text>
        </g>
      ))}
      {p.yMajor.map((v, i) => (
        <g key={"yM" + i}>
          <line x1={box.l - p.len} x2={box.l} y1={p.ys(v)} y2={p.ys(v)} stroke="#000" strokeWidth={p.tw} />
          <text x={box.l - p.yGap} y={p.ys(v) + p.fs * 0.36} textAnchor="end" fontSize={p.fs} fontWeight="bold">{p.yFmt(v)}</text>
        </g>
      ))}
      <rect x={box.l} y={box.t} width={box.r - box.l} height={box.b - box.t} fill="none" stroke="#000" strokeWidth={p.spine} />
    </g>
  );
}

const fmtInt = d3.format("d");
const fmt3 = d3.format(".3f");
const fmt2 = d3.format(".2f");
const fmt1 = d3.format(".1f");

const MODEL_COLOR = "#b22222";

// ---------------- Panels ----------------
function PanelG() {
  const box: Box = { l: 117, r: 550, t: 20, b: 371 };
  const xs = d3.scaleLinear().domain([-5.088, 1.032]).range([box.l, box.r]);
  const ys = d3.scaleLinear().domain([0.98512, 1.00742]).range([box.b, box.t]);
  const line = d3.line<number>().x((_, i) => xs(gModelTime[i])).y((v) => ys(v)).curve(d3.curveMonotoneX);
  return (
    <g>
      <clipPath id="clipG"><rect x={box.l} y={box.t} width={box.r - box.l} height={box.b - box.t} /></clipPath>
      <g clipPath="url(#clipG)">
        {gTime.map((t, i) => (
          <line key={"e" + i} x1={xs(t)} x2={xs(t)} y1={ys(gFlux[i] - G_ERR)} y2={ys(gFlux[i] + G_ERR)} stroke="#9370db" strokeOpacity={0.85} strokeWidth={3} />
        ))}
        {gTime.map((t, i) => (
          <g key={"p" + i}>
            <circle cx={xs(t)} cy={ys(gFlux[i])} r={6.5} fill="#7d55b5" fillOpacity={0.7} />
            <circle cx={xs(t)} cy={ys(gFlux[i])} r={3.6} fill="#4b0082" />
          </g>
        ))}
        <path d={line(gModelFlux) || ""} fill="none" stroke={MODEL_COLOR} strokeOpacity={0.85} strokeWidth={5} />
      </g>
      <Axes box={box} xs={xs} ys={ys} xMajor={gXTicks} yMajor={gYTicks}
        xMinor={minorTicks(xs.domain(), 0.5, gXTicks)} yMinor={minorTicks(ys.domain(), 0.001, gYTicks)}
        xFmt={fmtInt} yFmt={fmt3} len={6} minLen={4} tw={2.5} minTw={2} spine={3} xBase={397} yGap={9} fs={22} />
      <text x={430} y={49} fontSize={22} fontWeight="bold">SDSS <tspan fontFamily={SERIF} fontStyle="italic" fontWeight="normal" fontSize={24}>g</tspan></text>
      <text x={283} y={423} textAnchor="middle" fontSize={24} fontWeight="bold">Time From Center of Transit (hours)</text>
      <text transform="translate(31,183) rotate(-90)" textAnchor="middle" fontSize={24} fontWeight="bold">Normalized Flux</text>
    </g>
  );
}

function PanelI() {
  const box: Box = { l: 672, r: 1127, t: 6, b: 367 };
  const xs = d3.scaleLinear().domain([-7.308, -0.308]).range([box.l, box.r]);
  const ys = d3.scaleLinear().domain([0.975, 1.02514]).range([box.b, box.t]);
  const line = d3.line<number>().x((_, i) => xs(iModelTime[i])).y((v) => ys(v)).curve(d3.curveMonotoneX);
  return (
    <g>
      <clipPath id="clipI"><rect x={box.l} y={box.t} width={box.r - box.l} height={box.b - box.t} /></clipPath>
      <g clipPath="url(#clipI)">
        {iRaw.map((d, i) => (
          <circle key={"g" + i} cx={xs(d[0])} cy={ys(d[1])} r={2.8} fill="#808080" fillOpacity={0.38} />
        ))}
        <path d={line(iModelFlux) || ""} fill="none" stroke={MODEL_COLOR} strokeOpacity={0.85} strokeWidth={5} />
        {iBinTime.map((t, i) => (
          <g key={"b" + i}>
            <line x1={xs(t)} x2={xs(t)} y1={ys(iBinFlux[i] - iBinErr[i])} y2={ys(iBinFlux[i] + iBinErr[i])} stroke="#4b0082" strokeWidth={4} />
            <circle cx={xs(t)} cy={ys(iBinFlux[i])} r={4.6} fill="#4b0082" />
          </g>
        ))}
      </g>
      <Axes box={box} xs={xs} ys={ys} xMajor={iXTicks} yMajor={iYTicks}
        xMinor={minorTicks(xs.domain(), 0.5, iXTicks)} yMinor={minorTicks(ys.domain(), 0.002, iYTicks)}
        xFmt={fmtInt} yFmt={fmt2} len={6} minLen={4} tw={2.5} minTw={2} spine={3} xBase={394} yGap={9} fs={22} />
      <text x={724} y={37} fontSize={22} fontWeight="bold">SDSS i</text>
      <text x={852} y={420} textAnchor="middle" fontSize={24} fontWeight="bold">Time From Center of Transit (hours)</text>
      <text transform="translate(601,175) rotate(-90)" textAnchor="middle" fontSize={24} fontWeight="bold">Normalized Flux</text>
    </g>
  );
}

function PanelZ() {
  const box: Box = { l: 117, r: 557, t: 448, b: 798 };
  const xs = d3.scaleLinear().domain([-2.816, 4.224]).range([box.l, box.r]);
  const ys = d3.scaleLinear().domain([0.98539, 1.00506]).range([box.b, box.t]);
  const line = d3.line<number>().x((_, i) => xs(zModelTime[i])).y((v) => ys(v)).curve(d3.curveMonotoneX);
  return (
    <g>
      <clipPath id="clipZ"><rect x={box.l} y={box.t} width={box.r - box.l} height={box.b - box.t} /></clipPath>
      <g clipPath="url(#clipZ)">
        {zPts.map((d, i) => (
          <line key={"e" + i} x1={xs(d[0])} x2={xs(d[0])} y1={ys(d[1] - Z_ERR)} y2={ys(d[1] + Z_ERR)} stroke="#8a5cc7" strokeOpacity={0.7} strokeWidth={3} />
        ))}
        {zPts.map((d, i) => (
          <circle key={"p" + i} cx={xs(d[0])} cy={ys(d[1])} r={5.5} fill="#4b0082" fillOpacity={0.5} />
        ))}
        <path d={line(zModelFlux) || ""} fill="none" stroke={MODEL_COLOR} strokeOpacity={0.85} strokeWidth={5} />
      </g>
      <Axes box={box} xs={xs} ys={ys} xMajor={zXTicks} yMajor={zYTicks}
        xMinor={minorTicks(xs.domain(), 0.5, zXTicks)} yMinor={minorTicks(ys.domain(), 0.001, zYTicks)}
        xFmt={fmtInt} yFmt={fmt3} len={6} minLen={4} tw={2.5} minTw={2} spine={3} xBase={827} yGap={9} fs={22} />
      <text x={179} y={478} fontSize={22} fontWeight="bold">PS <tspan fontFamily={SERIF} fontStyle="italic" fontWeight="normal" fontSize={22}>z</tspan><tspan fontFamily={SERIF} fontStyle="italic" fontWeight="normal" fontSize={15} dy={4}>s</tspan></text>
      <text x={283} y={854} textAnchor="middle" fontSize={24} fontWeight="bold">Time From Center of Transit (hours)</text>
      <text transform="translate(31,610) rotate(-90)" textAnchor="middle" fontSize={24} fontWeight="bold">Normalized Flux</text>
    </g>
  );
}

function Hist({ h, xs, ys, color, alpha }: { h: { start: number; width: number; heights: number[] }; xs: Sc; ys: Sc; color: string; alpha: number }) {
  return (
    <g>
      {h.heights.map((v, i) => {
        const x0 = xs(h.start + i * h.width);
        const x1 = xs(h.start + (i + 1) * h.width);
        return (
          <rect key={i} x={x0} y={ys(v)} width={x1 - x0} height={ys(0) - ys(v)} fill={color} fillOpacity={alpha}
            stroke={color} strokeOpacity={alpha * 0.6} strokeWidth={0.7} />
        );
      })}
    </g>
  );
}

function PanelD() {
  const box: Box = { l: 667, r: 1103, t: 460, b: 787 };
  const xs = d3.scaleLinear().domain([0.1, 0.8]).range([box.l, box.r]);
  const ys = d3.scaleLinear().domain([0, 1.0219]).range([box.b, box.t]);
  const legend = [
    { color: "#0000ff", alpha: 0.4 },
    { color: "#008000", alpha: 0.6 },
    { color: "#ff0000", alpha: 0.4 },
    { color: "#a52a2a", alpha: 0.4 },
  ];
  const rowY = [485, 513, 541, 569];
  return (
    <g>
      <clipPath id="clipD"><rect x={box.l} y={box.t} width={box.r - box.l} height={box.b - box.t} /></clipPath>
      <g clipPath="url(#clipD)">
        <Hist h={histG} xs={xs} ys={ys} color="#0000ff" alpha={0.4} />
        <Hist h={histI} xs={xs} ys={ys} color="#a52a2a" alpha={0.4} />
        <Hist h={histTESS} xs={xs} ys={ys} color="#008000" alpha={0.6} />
        <Hist h={histZ} xs={xs} ys={ys} color="#ff0000" alpha={0.4} />
      </g>
      <Axes box={box} xs={xs} ys={ys} xMajor={dXTicks} yMajor={dYTicks} xMinor={[]} yMinor={[]}
        xFmt={fmt1} yFmt={fmt1} len={8} minLen={0} tw={4} minTw={0} spine={5} xBase={821} yGap={14} fs={22} />
      <rect x={958} y={469} width={138} height={117} rx={4} fill="#fff" fillOpacity={0.8} stroke="#cccccc" strokeWidth={1} />
      {legend.map((L, i) => (
        <rect key={"lp" + i} x={966} y={rowY[i] - 6} width={37} height={12} fill={L.color} fillOpacity={L.alpha} />
      ))}
      <text x={1018} y={rowY[0] + 6} fontSize={18} fontWeight="bold">SDSS<tspan dx={8} fontFamily={SERIF} fontStyle="italic" fontWeight="normal" fontSize={20}>g</tspan></text>
      <text x={1018} y={rowY[1] + 6} fontSize={20} fontFamily={SERIF} fontStyle="italic">TESS</text>
      <text x={1018} y={rowY[2] + 6} fontSize={18} fontWeight="bold">PS<tspan dx={8} fontFamily={SERIF} fontStyle="italic" fontWeight="normal" fontSize={19}>z</tspan><tspan fontFamily={SERIF} fontStyle="italic" fontWeight="normal" fontSize={13} dy={3}>s</tspan></text>
      <text x={1018} y={rowY[3] + 6} fontSize={18} fontWeight="bold">SDSS<tspan dx={8} fontFamily={SERIF} fontStyle="italic" fontWeight="normal" fontSize={20}>i</tspan></text>
      <text x={885} y={846} textAnchor="middle" fontSize={23} fontWeight="bold">Transit Depth (%)</text>
      <text transform="translate(601,625) rotate(-90)" textAnchor="middle" fontSize={24} fontWeight="bold">Relative Density</text>
    </g>
  );
}

export default function App() {
  return (
    <svg width={1133} height={861} style={{ position: "absolute", left: 0, top: 0, display: "block" }} fontFamily={FONT}>
      <rect x={0} y={0} width={1133} height={861} fill="#ffffff" />
      <PanelG />
      <PanelI />
      <PanelZ />
      <PanelD />
    </svg>
  );
}
